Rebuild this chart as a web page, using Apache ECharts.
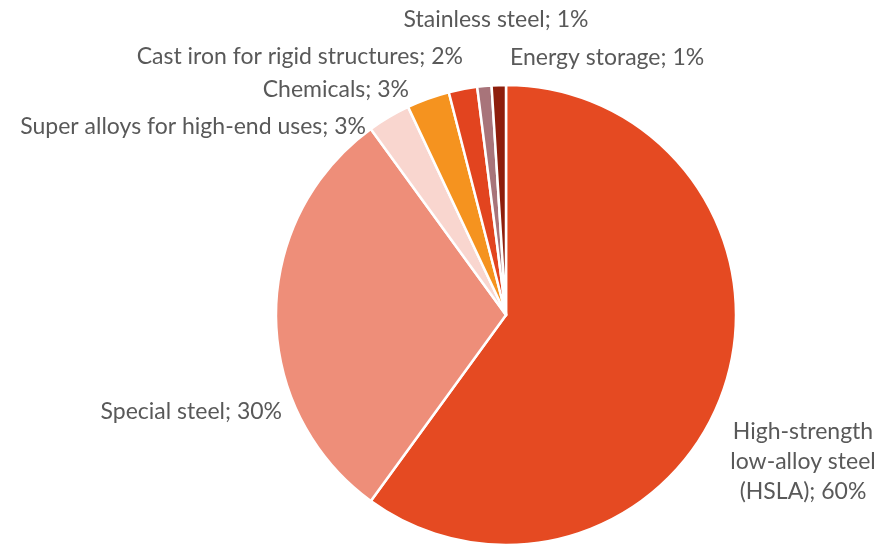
<!DOCTYPE html>
<html>
<head>
<meta charset="utf-8">
<script src="https://cdn.jsdelivr.net/npm/echarts@6/dist/echarts.min.js"></script>
<style>
html,body{margin:0;padding:0;background:#fff;}
#chart{width:877px;height:547px;}
</style>
</head>
<body>
<div id="chart"></div>
<script>
var categories = [
  'High-strength low-alloy steel (HSLA)',
  'Special steel',
  'Super alloys for high-end uses',
  'Chemicals',
  'Cast iron for rigid structures',
  'Stainless steel',
  'Energy storage'
];
var values = [60, 30, 3, 3, 2, 1, 1];
var colors = ['#E54A22', '#EE8E79', '#F9D6CF', '#F5931F', '#E2441F', '#A8747A', '#8E1E0C'];

// label anchor placements (text layout only)
var labelPos = [
  {x: 803, y: 462, align: 'center'},
  {x: 282, y: 412, align: 'right'},
  {x: 366, y: 127, align: 'right'},
  {x: 409, y: 90, align: 'right'},
  {x: 463, y: 57, align: 'right'},
  {x: 496, y: 20, align: 'center'},
  {x: 510, y: 58, align: 'left'}
];

var data = categories.map(function (c, i) {
  return { name: c, value: values[i], itemStyle: { color: colors[i] } };
});

var chart = echarts.init(document.getElementById('chart'));
chart.setOption({
  animation: false,
  series: [{
    type: 'pie',
    center: [506, 315],
    radius: 230,
    startAngle: 90,
    clockwise: true,
    data: data,
    itemStyle: { borderColor: '#ffffff', borderWidth: 2.5 },
    label: {
      show: true,
      position: 'outside',
      color: '#595959',
      fontFamily: 'Lato',
      fontSize: 23,
      lineHeight: 30,
      overflow: 'none',
      edgeDistance: 0,
      bleedMargin: 0,
      formatter: function (p) {
        var n = p.name;
        if (p.dataIndex === 0) {
          n = n.replace(' low-alloy', '\nlow-alloy').replace(' (HSLA)', '\n(HSLA)');
        }
        return n + '; ' + p.value + '%';
      }
    },
    labelLine: { show: false },
    labelLayout: function (params) {
      var lp = labelPos[params.dataIndex];
      return { x: lp.x, y: lp.y, align: lp.align, verticalAlign: 'middle', hideOverlap: false };
    }
  }]
});
</script>
</body>
</html>
